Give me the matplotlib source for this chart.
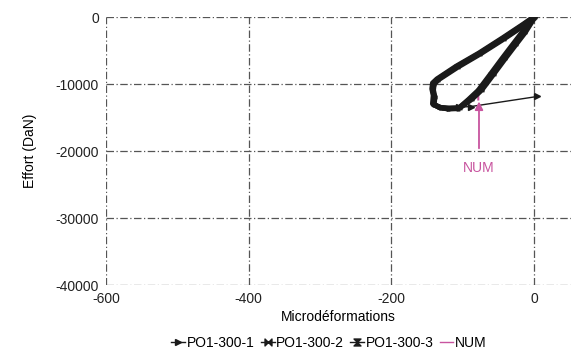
import matplotlib.pyplot as plt
from matplotlib.path import Path

plt.rcParams['font.family'] = ['Liberation Sans', 'DejaVu Sans']
plt.rcParams['axes.unicode_minus'] = False

# loop (closed): upper branch down, left side, bottom, lower branch back up
po1_x = [0, -15, -43, -76, -108, -135, -141, -142, -140, -141, -132, -120, -105, -90, -76, -59, -43, -28, -15, 0]
po1_y = [0, -1190, -3180, -5420, -7400, -9300, -9900, -10800, -11800, -13000, -13500, -13650, -13600, -12300, -10900, -8500, -6200, -4100, -2300, 0]
po2_x = [0, -14, -42, -75, -107, -134, -140, -141, -139, -140, -130, -118, -104, -87, -73, -56, -40, -25, -12, 1]
po2_y = [-100, -1250, -3250, -5480, -7480, -9350, -10000, -10900, -11900, -13100, -13550, -13600, -13550, -12250, -10850, -8450, -6150, -4050, -2250, -50]
po3_x = [-1, -16, -44, -77, -109, -136, -142, -143, -141, -142, -133, -121, -106, -92, -78, -61, -45, -30, -17, -1]
po3_y = [-50, -1150, -3130, -5380, -7350, -9250, -9850, -10700, -11700, -12950, -13450, -13700, -13650, -12350, -10950, -8550, -6250, -4150, -2350, -80]
tail_x = [-105, -88, 5]
tail_y = [-13450, -13350, -11850]
num_x = [0, -40, -74, -78, -78]
num_y = [0, -5800, -10700, -11500, -12300]

black = '#1a1a1a'
pink = '#c8549f'

bowtie = Path([(-1, -1), (1, 1), (1, -1), (-1, 1), (-1, -1)],
              [Path.MOVETO, Path.LINETO, Path.LINETO, Path.LINETO, Path.CLOSEPOLY])
hourglass = Path([(-1, -1), (1, -1), (-1, 1), (1, 1), (-1, -1)],
                 [Path.MOVETO, Path.LINETO, Path.LINETO, Path.LINETO, Path.CLOSEPOLY])

fig = plt.figure(figsize=(5.71, 3.56), dpi=100)
ax = fig.add_axes([0.1856, 0.1994, 0.8144, 0.7526])

ax.plot(num_x, num_y, color=pink, lw=1.5, label='NUM', zorder=2)
ax.plot(po1_x, po1_y, color=black, lw=3.8, marker='>', ms=2, label='PO1-300-1', zorder=3)
ax.plot(po2_x, po2_y, color=black, lw=3.8, marker=bowtie, ms=2, label='PO1-300-2', zorder=3)
ax.plot(po3_x, po3_y, color=black, lw=3.8, marker=hourglass, ms=2, label='PO1-300-3', zorder=3)
ax.plot(tail_x, tail_y, color=black, lw=1.0, marker='>', ms=4, zorder=3)

ax.annotate('NUM', xy=(-77, -12600), xytext=(-77, -22500), color=pink, fontsize=10,
            ha='center', va='center',
            arrowprops=dict(arrowstyle='-|>', color=pink, lw=1.3, mutation_scale=12,
                            shrinkA=7, shrinkB=0))

ax.set_xlim(-600, 52)
ax.set_ylim(-40000, 0)
ax.set_xticks([-600, -400, -200, 0])
ax.set_yticks([0, -10000, -20000, -30000, -40000])
ax.tick_params(length=0, labelsize=10, colors='#222222')
ax.tick_params(axis='x', pad=5)
ax.tick_params(axis='y', pad=5)
for s in ax.spines.values():
    s.set_visible(False)
ax.grid(True, color='#555555', lw=0.9, linestyle=(0, (6, 2, 1, 2)))
ax.set_axisbelow(True)

ax.set_xlabel('Microdéformations', fontsize=10, labelpad=3)
ax.set_ylabel('Effort (DaN)', fontsize=10, labelpad=13)

handles, labels = ax.get_legend_handles_labels()
order = [1, 2, 3, 0]
leg = fig.legend([handles[i] for i in order], [labels[i] for i in order],
                 loc='center', bbox_to_anchor=(0.576, 0.037), ncol=4, frameon=False,
                 fontsize=10, handlelength=1.0, handletextpad=0.1, columnspacing=0.45,
                 borderaxespad=0, borderpad=0)
for h in leg.get_lines():
    h.set_linewidth(1.0)
    h.set_markersize(5)

fig.savefig('out.png', dpi=100)
